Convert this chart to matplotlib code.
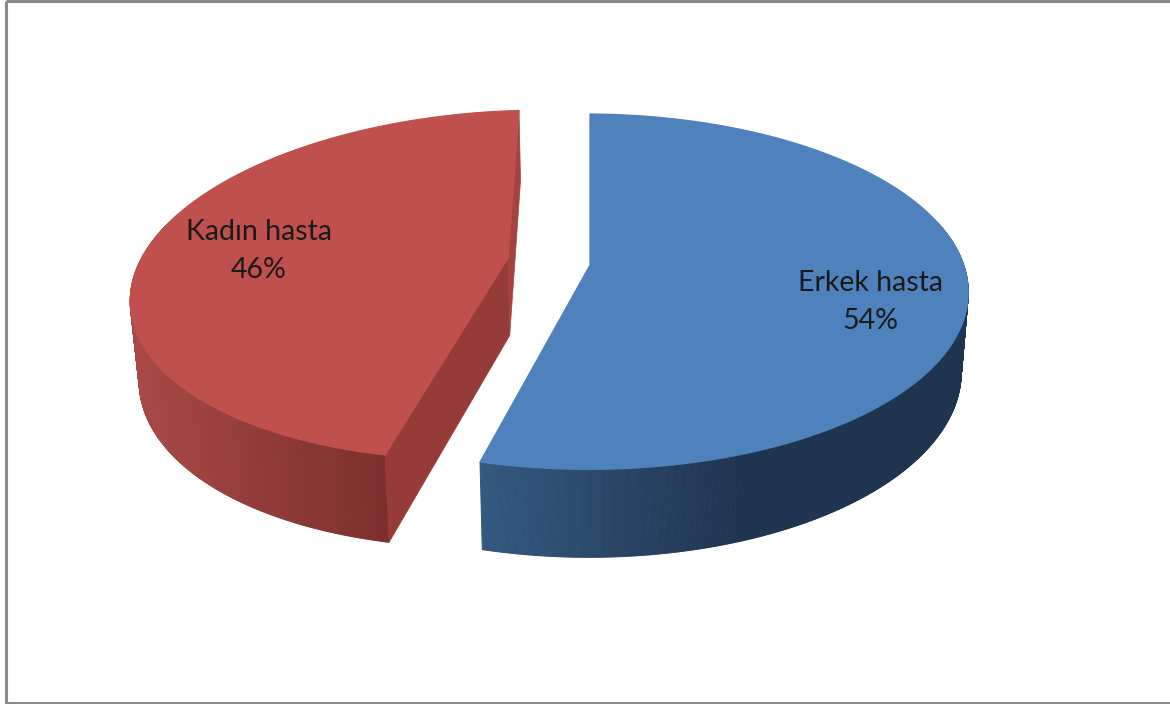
import numpy as np
import matplotlib
matplotlib.use('Agg')
import matplotlib.pyplot as plt
from matplotlib.collections import PolyCollection
from matplotlib.colors import to_rgb
from matplotlib.patches import Polygon, Rectangle

categories = ['Erkek hasta', 'Kadın hasta']
percent = [54, 46]

W, H = 1170, 704


def fit_plane(disc_pts, pix_pts):
    # projective map from the unit disc to the screen
    A = []
    b = []
    for (dx, dy), (px, py) in zip(disc_pts, pix_pts):
        A.append([dx, dy, 1, 0, 0, 0, -dx * px, -dy * px])
        A.append([0, 0, 0, dx, dy, 1, -dx * py, -dy * py])
        b += [px, py]
    return np.linalg.solve(np.array(A, float), np.array(b, float))


def project(m, theta):
    # theta in degrees, clockwise from 12 o'clock
    t = np.radians(theta)
    dx, dy = np.sin(t), np.cos(t)
    w = m[6] * dx + m[7] * dy + 1
    return np.column_stack([(m[0] * dx + m[1] * dy + m[2]) / w,
                            (m[3] * dx + m[4] * dy + m[5]) / w])


def centre(m):
    return np.array([m[2], m[5]])


def extrude(p):
    # lower rim of the pie, slightly narrower because of the perspective
    p = np.atleast_2d(p)
    return np.column_stack([p[:, 0] - 0.019 * (p[:, 0] - 600),
                            p[:, 1] + 70 + 0.05 * (p[:, 1] - 110)])


def on_disc(theta):
    t = np.radians(theta)
    return (np.sin(t), np.cos(t))


def wall(ax, m, t0, t1, x0, x1, c0, c1):
    # side wall as thin strips shaded along x
    th = np.linspace(t0, t1, 500)
    top = project(m, th)
    bot = extrude(top)
    polys = []
    cols = []
    c0, c1 = np.array(to_rgb(c0)), np.array(to_rgb(c1))
    for i in range(len(th) - 1):
        polys.append([top[i], top[i + 1], bot[i + 1], bot[i]])
        f = np.clip((top[i, 0] - x0) / (x1 - x0), 0, 1)
        cols.append(c0 + (c1 - c0) * f)
    ax.add_collection(PolyCollection(polys, facecolors=cols, edgecolors=cols, linewidths=0.7))


fig = plt.figure(figsize=(W / 100, H / 100), dpi=100)
ax = fig.add_axes([0, 0, 1, 1])
ax.set_xlim(0, W)
ax.set_ylim(H, 0)
ax.axis('off')

# chart frame, runs off the right side
ax.add_patch(Rectangle((5.5, 1), 1200, 701.5, fill=False, edgecolor='#8a8a8a', linewidth=2.2))

split = 360 * percent[0] / sum(percent)

# erkek slice, the wall only shows from about 3 o'clock on
m1 = fit_plane([(0, 0), on_disc(0), on_disc(split), on_disc(90)],
               [(590, 265), (590, 114), (480, 462), (964, 266)])
wall(ax, m1, 75, split, 480, 745, '#34587f', '#1f344f')
th = np.linspace(0, split, 300)
ax.add_patch(Polygon(np.vstack([centre(m1), project(m1, th)]), closed=True,
                     facecolor='#4f81bd', edgecolor='#4f81bd', linewidth=0.9))

# kadin slice
m2 = fit_plane([(0, 0), on_disc(split), on_disc(270), on_disc(360)],
               [(508, 258), (385, 455), (137, 268), (519, 110.5)])
wall(ax, m2, split, 285, 385, 135, '#7b2f2c', '#a84946')
c2 = centre(m2)
front = project(m2, split)[0]
back = project(m2, 360)[0]
ax.add_patch(Polygon([c2, front, extrude(front)[0], extrude(c2)[0]], closed=True,
                     facecolor='#953b38', edgecolor='#953b38', linewidth=0.5))
ax.add_patch(Polygon([c2, back, extrude(back)[0], extrude(c2)[0]], closed=True,
                     facecolor='#a3423f', edgecolor='#a3423f', linewidth=0.5))
th = np.linspace(split, 360, 300)
ax.add_patch(Polygon(np.vstack([c2, project(m2, th)]), closed=True,
                     facecolor='#c0504d', edgecolor='#c0504d', linewidth=0.9))

# data labels
label_xy = [(870, 302), (259, 251)]
for name, val, (lx, ly) in zip(categories, percent, label_xy):
    ax.text(lx, ly, name + '\n' + str(val) + '%', ha='center', va='center', family='Lato',
            fontsize=20.5, color='#1a1a1a', linespacing=1.58)

plt.savefig('out.png', dpi=100)
